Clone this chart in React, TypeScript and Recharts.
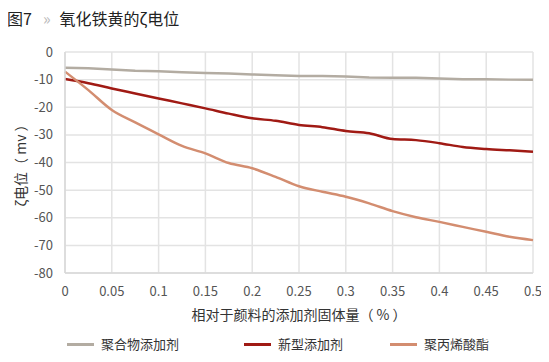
import { LineChart, Line, XAxis, YAxis, CartesianGrid } from "recharts";

const xValues = [0, 0.025, 0.05, 0.075, 0.1, 0.125, 0.15, 0.175, 0.2, 0.225, 0.25, 0.275, 0.3, 0.325, 0.35, 0.375, 0.4, 0.425, 0.45, 0.475, 0.5];
const polymer = [-5.7, -5.9, -6.3, -6.8, -7.0, -7.3, -7.6, -7.8, -8.1, -8.4, -8.7, -8.7, -8.9, -9.2, -9.3, -9.3, -9.6, -9.9, -9.9, -10, -10];
const novel = [-9.8, -11.3, -13.2, -15.0, -16.8, -18.6, -20.4, -22.3, -24.0, -24.9, -26.4, -27.2, -28.6, -29.4, -31.5, -31.9, -33.0, -34.4, -35.1, -35.6, -36.1];
const polyacrylate = [-7.1, -13.8, -21.0, -25.5, -29.8, -34.0, -36.7, -40.2, -42.1, -45.2, -48.6, -50.6, -52.4, -54.8, -57.6, -59.8, -61.5, -63.3, -65.1, -66.9, -68.1];

const xTicks = [0, 0.05, 0.1, 0.15, 0.2, 0.25, 0.3, 0.35, 0.4, 0.45, 0.5];
const yTicks = [0, -10, -20, -30, -40, -50, -60, -70, -80];

const seriesNames = ["聚合物添加剂", "新型添加剂", "聚丙烯酸酯"];
const colors = ["#b3aca2", "#a01a14", "#d38d70"];

const data = xValues.map((x, i) => ({
  x,
  polymer: polymer[i],
  novel: novel[i],
  polyacrylate: polyacrylate[i],
}));

const font = '"Microsoft YaHei", "Noto Sans CJK SC", sans-serif';

export default function App() {
  return (
    <div style={{ position: "relative", width: 533, height: 346 }}>
      <div style={{ position: "absolute", left: -8, top: -8, width: 549, height: 362, background: "#fff", fontFamily: font }}>
        <div style={{ position: "absolute", left: 7, top: 8, fontSize: 16, lineHeight: "20px", color: "#222", whiteSpace: "nowrap" }}>
          图7<span style={{ color: "#bbb", fontSize: 16, margin: "0 9px 0 11px" }}>»</span>氧化铁黄的ζ电位
        </div>
        <div style={{ position: "absolute", left: 0, top: 0 }}>
          <LineChart width={549} height={300} data={data} margin={{ top: 52, right: 16, left: 0, bottom: 0 }}>
            <CartesianGrid stroke="#e3e3e3" strokeWidth={1.5} verticalValues={xTicks} horizontalValues={yTicks} />
            <XAxis
              dataKey="x"
              type="number"
              domain={[0, 0.5]}
              ticks={xTicks}
              height={27}
              axisLine={{ stroke: "#d9d9d9", strokeWidth: 1.5 }}
              tickLine={false}
              tick={{ fontSize: 13, fill: "#555", fontFamily: font }}
              tickMargin={8}
              interval={0}
            />
            <YAxis
              type="number"
              domain={[-80, 0]}
              ticks={yTicks}
              width={65}
              axisLine={{ stroke: "#d9d9d9", strokeWidth: 1.5 }}
              tickLine={false}
              tick={{ fontSize: 13, fill: "#555", fontFamily: font }}
              tickMargin={6}
              interval={0}
            />
            <Line type="linear" dataKey="polymer" stroke={colors[0]} strokeWidth={2.5} dot={false} isAnimationActive={false} />
            <Line type="monotone" dataKey="novel" stroke={colors[1]} strokeWidth={2.5} dot={false} isAnimationActive={false} />
            <Line type="monotone" dataKey="polyacrylate" stroke={colors[2]} strokeWidth={2.5} dot={false} isAnimationActive={false} />
          </LineChart>
        </div>
        <div
          style={{
            position: "absolute",
            left: 20,
            top: 162,
            transform: "translate(-50%, -50%) rotate(-90deg)",
            fontSize: 14,
            lineHeight: "18px",
            color: "#333",
            whiteSpace: "nowrap",
          }}
        >
          ζ电位（ mv ）
        </div>
        <div style={{ position: "absolute", left: 65, width: 468, top: 305, textAlign: "center", fontSize: 14, lineHeight: "18px", color: "#333", whiteSpace: "nowrap" }}>
          相对于颜料的添加剂固体量（ % ）
        </div>
        {seriesNames.map((name, i) => (
          <div
            key={name}
            style={{
              position: "absolute",
              left: [67, 244, 390][i],
              top: 336,
              height: 16,
              display: "flex",
              alignItems: "center",
              gap: 7,
              fontSize: 13,
              lineHeight: "16px",
              color: "#333",
              whiteSpace: "nowrap",
            }}
          >
            <span style={{ display: "inline-block", width: 27, height: 3, background: colors[i] }} />
            <span>{name}</span>
          </div>
        ))}
      </div>
    </div>
  );
}
